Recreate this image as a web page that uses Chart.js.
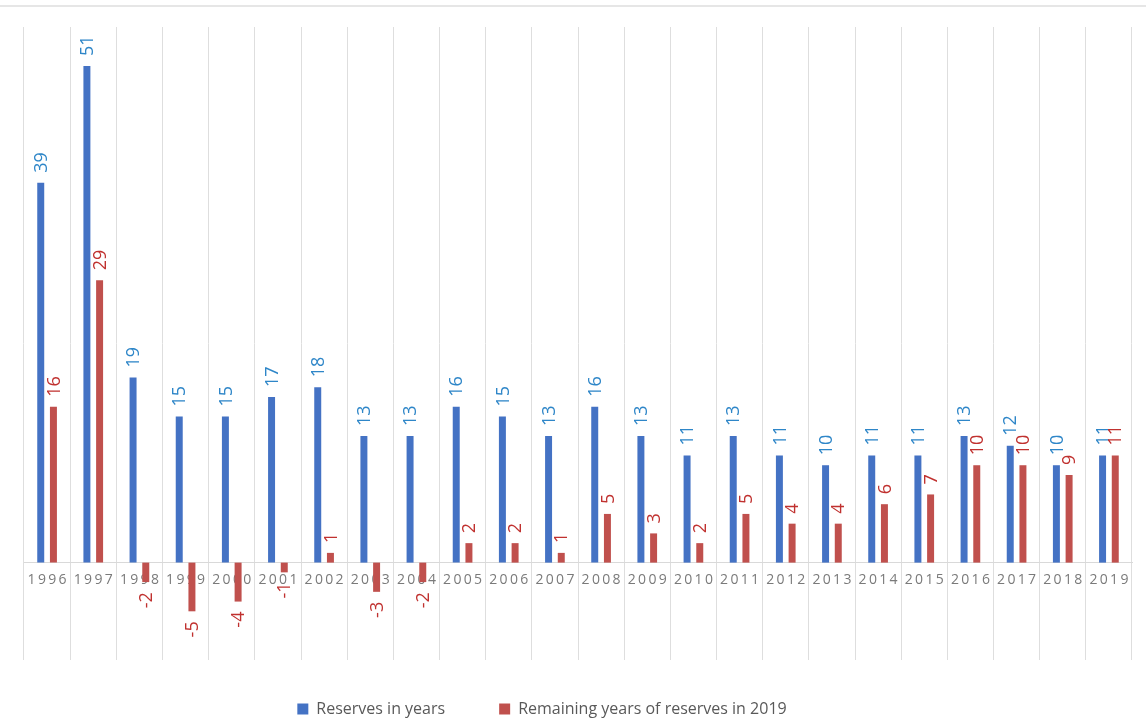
<!DOCTYPE html>
<html>
<head>
<meta charset="utf-8">
<title>Reserves in years</title>
<script src="https://cdn.jsdelivr.net/npm/chart.js@4.4.1/dist/chart.umd.min.js"></script>
<style>
  html, body { margin: 0; padding: 0; background: #fff; }
  canvas { display: block; }
</style>
</head>
<body>
<canvas id="chart" width="1146" height="721"></canvas>
<script>
const years = ['1996', '1997', '1998', '1999', '2000', '2001', '2002', '2003', '2004', '2005', '2006', '2007',
  '2008', '2009', '2010', '2011', '2012', '2013', '2014', '2015', '2016', '2017', '2018', '2019'];
const reservesYears = [39, 51, 19, 15, 15, 17, 18, 13, 13, 16, 15, 13, 16, 13, 11, 13, 11, 10, 11, 11, 13, 12, 10, 11];
const remainingYears = [16, 29, -2, -5, -4, -1, 1, -3, -2, 2, 2, 1, 5, 3, 2, 5, 4, 4, 6, 7, 10, 10, 9, 11];

const FONT = '"Open Sans", "Liberation Sans", sans-serif';

// thin line across the top of the figure
const topRule = {
  id: 'topRule',
  beforeDraw(chart) {
    const ctx = chart.ctx;
    ctx.save();
    ctx.fillStyle = '#e6e6e6';
    ctx.fillRect(0, 5, chart.width, 2);
    ctx.restore();
  }
};

// nudge the legend a little up and to the left of centre
const legendShift = {
  id: 'legendShift',
  afterLayout(chart) {
    const lg = chart.legend;
    if (!lg) return;
    lg.left -= 36;
    lg.right -= 36;
    lg.top -= 13;
    lg.bottom -= 13;
  }
};

// vertical value labels at the end of each bar
const barLabels = {
  id: 'barLabels',
  afterDatasetsDraw(chart) {
    const ctx = chart.ctx;
    chart.data.datasets.forEach((ds, i) => {
      const meta = chart.getDatasetMeta(i);
      meta.data.forEach((bar, j) => {
        const v = ds.data[j];
        const neg = v < 0;
        ctx.save();
        ctx.translate(bar.x + 1, bar.y + (neg ? 10 : -10));
        ctx.rotate(-Math.PI / 2);
        ctx.textAlign = neg ? 'right' : 'left';
        ctx.textBaseline = 'middle';
        ctx.fillStyle = ds.labelColor;
        ctx.font = '18px ' + FONT;
        ctx.fillText(String(v), 0, 0);
        ctx.restore();
      });
    });
  }
};

new Chart(document.getElementById('chart'), {
  type: 'bar',
  data: {
    labels: years,
    datasets: [
      {
        label: 'Reserves in years',
        data: reservesYears,
        backgroundColor: '#4472c4',
        labelColor: '#2e86c8',
        categoryPercentage: 0.55,
        barPercentage: 0.55,
      },
      {
        label: 'Remaining years of reserves in 2019',
        data: remainingYears,
        backgroundColor: '#c0504d',
        labelColor: '#c0312f',
        categoryPercentage: 0.55,
        barPercentage: 0.55,
      },
    ],
  },
  options: {
    responsive: false,
    animation: false,
    layout: { padding: { top: 27, left: 24, right: 14, bottom: -19 } },
    plugins: {
      legend: {
        position: 'bottom',
        labels: {
          boxWidth: 11,
          boxHeight: 11,
          padding: 54,
          color: '#595959',
          font: { family: FONT, size: 16 },
        },
      },
      tooltip: { enabled: false },
    },
    scales: {
      x: {
        position: { y: 0 },
        grid: { color: '#dedede', lineWidth: 1, drawTicks: false, offset: true },
        border: { color: '#d9d9d9', width: 1 },
        ticks: {
          color: '#7a7a7a',
          padding: 9,
          maxRotation: 0,
          autoSkip: false,
          font: { family: FONT, size: 14 },
          callback: (v, i) => years[i].split('').join('\u2009'),
        },
      },
      y: {
        display: false,
        min: -10,
        max: 55,
      },
    },
  },
  plugins: [topRule, legendShift, barLabels],
});
</script>
</body>
</html>
